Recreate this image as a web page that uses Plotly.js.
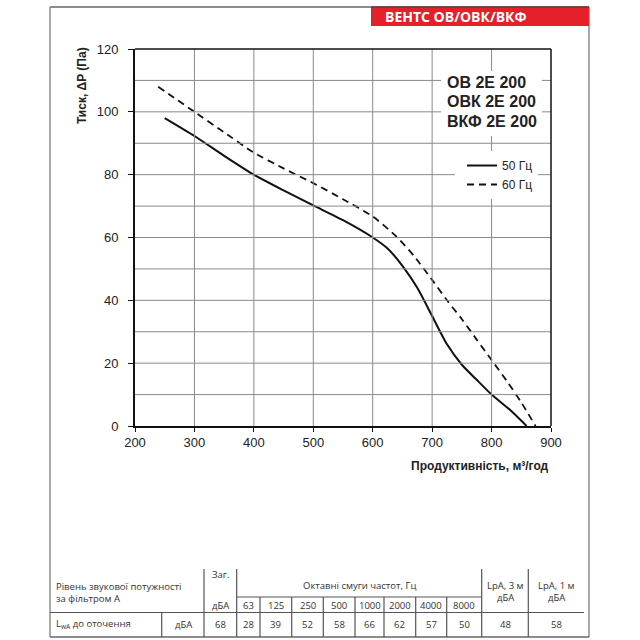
<!DOCTYPE html>
<html>
<head>
<meta charset="utf-8">
<script src="https://cdn.plot.ly/plotly-3.0.1.min.js"></script>
<style>html,body{margin:0;padding:0;background:#fff;}#chart{width:640px;height:640px;}</style>
</head>
<body>
<div id="chart"></div>
<script>
// ---- data ----
const flow50 = [250, 300, 350, 400, 450, 500, 550, 600, 625, 650, 675, 700, 725, 750, 775, 800, 830, 859];
const pres50 = [98, 92.3, 86, 80, 75, 70.2, 65.5, 60, 56.5, 51, 44, 35, 26, 19.5, 14.7, 10, 5.3, 0];
const flow60 = [239, 300, 350, 400, 450, 500, 550, 600, 640, 670, 700, 725, 750, 775, 800, 825, 850, 874];
const pres60 = [108, 100, 93.5, 87, 82, 77.3, 72.2, 66.7, 60.3, 54, 46.5, 40, 34, 27.5, 21, 14.5, 7.5, 0];
const seriesNames = ['50 Гц', '60 Гц'];
const models = ['ОВ 2Е 200', 'ОВК 2Е 200', 'ВКФ 2Е 200'];
const headerText = 'ВЕНТС ОВ/ОВК/ВКФ';
const yTitle = 'Тиск, ΔP (Па)';
const xTitle = 'Продуктивність, м³/год';
const bands = ['63', '125', '250', '500', '1000', '2000', '4000', '8000'];
const bandLevels = [28, 39, 52, 58, 66, 62, 57, 50];
const totalLevel = 68;
const lpa3 = 48;
const lpa1 = 58;

// axis settings
const xRange = [200, 900], xStep = 100;
const yRange = [0, 120], yStep = 20, yGridStep = 10;

// ---- layout helpers (pixel -> paper) ----
const L = 135, R = 551, T = 49, B = 426;
const px = p => (p - L) / (R - L);
const py = p => (B - p) / (B - T);

const gridc = '#8a8a8a';
const shapes = [];
const ann = [];

// grid lines on the axes' own scales
for (let v = xRange[0] + xStep; v < xRange[1]; v += xStep) {
  shapes.push({type: 'line', xref: 'x', yref: 'paper', x0: v, x1: v, y0: 0, y1: 1,
    line: {color: gridc, width: 1}, layer: 'above'});
}
for (let v = yRange[0] + yGridStep; v < yRange[1]; v += yGridStep) {
  shapes.push({type: 'line', xref: 'paper', yref: 'y', x0: 0, x1: 1, y0: v, y1: v,
    line: {color: gridc, width: 1}, layer: 'above'});
}

function addLine(x0, y0, x1, y1, color, w) {
  shapes.push({type: 'line', xref: 'paper', yref: 'paper', x0: px(x0), y0: py(y0), x1: px(x1), y1: py(y1),
    line: {color: color, width: w}, layer: 'above'});
}
function addRect(x0, y0, x1, y1, fill) {
  shapes.push({type: 'rect', xref: 'paper', yref: 'paper', x0: px(x0), y0: py(y0), x1: px(x1), y1: py(y1),
    fillcolor: fill, line: {width: 0}, layer: 'above'});
}
function addText(t, x, y, opts) {
  opts = opts || {};
  ann.push({text: t, xref: 'paper', yref: 'paper', x: px(x), y: py(y), showarrow: false,
    xanchor: opts.xa || 'center', yanchor: 'middle', textangle: opts.angle || 0,
    font: {family: opts.family || 'Open Sans, sans-serif', size: opts.size || 9.5, color: opts.color || '#333'}});
}

// top and right sides of the plot frame
shapes.push({type: 'line', xref: 'paper', yref: 'paper', x0: 0, x1: 1, y0: 1, y1: 1, line: {color: '#111', width: 1.5}, layer: 'above'});
shapes.push({type: 'line', xref: 'paper', yref: 'paper', x0: 1, x1: 1, y0: 0, y1: 1, line: {color: '#111', width: 1.5}, layer: 'above'});

// white boxes behind model text & legend (drawn after the grid)
addRect(441, 71, 542, 136, '#fff');
addRect(455, 153, 538, 195, '#fff');

// model labels
models.forEach((m, i) => addText('<b>' + m + '</b>', 445, 82 + i * 19.6,
  {xa: 'left', size: 16, family: 'Liberation Sans, Arial, sans-serif', color: '#222'}));

// axis titles
addText('<b>' + yTitle + '</b>', 82, 86, {angle: -90, size: 12, family: 'Liberation Sans, Arial, sans-serif', color: '#222'});
addText('<b>' + xTitle + '</b>', 551, 466, {xa: 'right', size: 12, family: 'Liberation Sans, Arial, sans-serif', color: '#222'});

// outer frame
const fc = '#8c8c8c';
addLine(50, 7, 589, 7, '#666', 1.5);
addLine(50, 7, 50, 637, fc, 1.5);
addLine(589, 7, 589, 637, fc, 1.5);
addLine(50, 637, 589, 637, '#666', 1.5);
// header
addRect(371, 7.5, 589, 26, '#e4202a');
addLine(371, 7, 589, 7, '#5a1010', 1.2);
addText('<b>' + headerText + '</b>', 383, 16.8, {xa: 'left', size: 14, color: '#fff'});

// table
const tc = '#555';
const bandEdges = [236.7, 260, 291.7, 323.3, 355, 384, 415.7, 446.7, 481.7];
addLine(50, 612.5, 584, 612.5, tc, 1.2);
addLine(236.7, 597, 481.7, 597, tc, 1.2);
addLine(161.7, 612.5, 161.7, 637, tc, 1.2);
addLine(204, 569, 204, 637, tc, 1.2);
[236.7, 481.7, 528.3].forEach(x => addLine(x, 569, x, 637, tc, 1.2));
bandEdges.slice(1, -1).forEach(x => addLine(x, 597, x, 637, tc, 1.2));

addText('Рівень звукової потужності', 54, 586, {xa: 'left'});
addText('за фільтром А', 54, 598, {xa: 'left'});
addText('L<sub>wA</sub> до оточення', 54, 624, {xa: 'left'});
addText('дБА', 183, 624);
addText('Заг.', 220.3, 574);
addText('дБА', 220.3, 605);
addText(String(totalLevel), 220.3, 624);
addText('Октавні смуги частот, Гц', (bandEdges[0] + bandEdges[8]) / 2, 585);
bands.forEach((b, i) => {
  const cx = (bandEdges[i] + bandEdges[i + 1]) / 2;
  addText(b, cx, 605);
  addText(String(bandLevels[i]), cx, 624);
});
addText('LpA, 3 м', 505, 585);
addText('дБА', 505, 597);
addText(String(lpa3), 505, 624);
addText('LpA, 1 м', 556, 585);
addText('дБА', 556, 597);
addText(String(lpa1), 556, 624);

const traces = [
  {x: flow50, y: pres50, name: seriesNames[0], type: 'scatter', mode: 'lines',
    line: {color: '#111', width: 2, shape: 'spline', smoothing: 0.6}},
  {x: flow60, y: pres60, name: seriesNames[1], type: 'scatter', mode: 'lines',
    line: {color: '#111', width: 1.8, dash: '7px,5px', shape: 'spline', smoothing: 0.6}}
];

const tickFont = {family: 'Liberation Sans, Arial, sans-serif', size: 13, color: '#222'};
const layout = {
  width: 640, height: 640,
  margin: {l: L, r: 640 - R, t: T, b: 640 - B},
  paper_bgcolor: '#fff', plot_bgcolor: '#fff',
  showlegend: true,
  legend: {x: px(462), y: py(151), xanchor: 'left', yanchor: 'top', bgcolor: '#fff',
    font: {family: 'Liberation Sans, Arial, sans-serif', size: 12, color: '#222'}, itemwidth: 30,
    tracegroupgap: 0},
  xaxis: {range: xRange, dtick: xStep, showgrid: false,
    zeroline: false, showline: true, linecolor: '#111', linewidth: 1.5,
    ticks: 'outside', ticklen: 4, tickcolor: '#111', tickfont: tickFont},
  yaxis: {range: yRange, dtick: yStep, showgrid: false,
    zeroline: false, showline: true, linecolor: '#111', linewidth: 1.5,
    ticks: 'outside', ticklen: 5, tickcolor: '#111', tickfont: tickFont, ticksuffix: '\u00a0\u00a0'},
  shapes: shapes,
  annotations: ann
};

Plotly.newPlot('chart', traces, layout, {displayModeBar: false});
</script>
</body>
</html>
